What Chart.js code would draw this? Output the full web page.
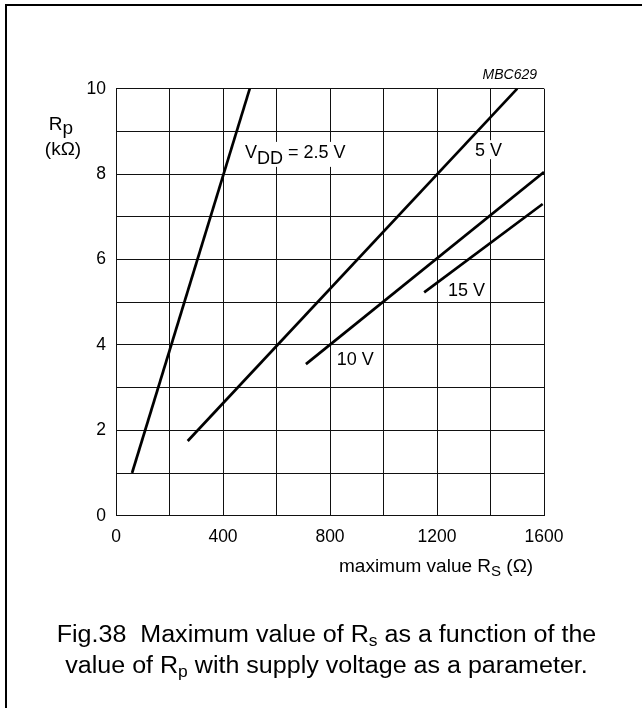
<!DOCTYPE html>
<html>
<head>
<meta charset="utf-8">
<script src="https://cdn.jsdelivr.net/npm/chart.js@4"></script>
<style>
  html, body { margin: 0; padding: 0; background: #fff; }
  canvas { display: block; }
</style>
</head>
<body>
<canvas id="myChart" width="642" height="708"></canvas>
<script>
// data: R_s (ohm) on x, R_p (kohm) on y
const xTicks = [0, 400, 800, 1200, 1600];
const yTicks = [0, 2, 4, 6, 8, 10];

const series = ['2.5 V', '5 V', '10 V', '15 V'];
const rsValues = [
    [60, 500],
    [268, 1500],
    [710, 1600],
    [1152, 1595]
];
const rpValues = [
    [1.0, 10.0],
    [1.75, 10.0],
    [3.55, 8.05],
    [5.23, 7.3]
];

// curve labels: [text parts [text, dy], x value, y value]
const curveLabels = [
    [[['V', 0], ['DD', 6], [' = 2.5 V', 0]], 482, 8.38],
    [[['5 V', 0]], 1342, 8.42],
    [[['10 V', 0]], 825, 3.53],
    [[['15 V', 0]], 1241, 5.15]
];

const FONT = '"Liberation Sans", Arial, Helvetica, sans-serif';

function measureParts(ctx, parts, size){
    let total = 0;
    parts.forEach(p => {
        ctx.font = (p[2] || size) + 'px ' + FONT;
        total += ctx.measureText(p[0]).width;
    });
    return total;
}

function drawParts(ctx, parts, x, y, size, align, sx){
    // parts: [text, dy, size?]; sx = horizontal stretch of the scan
    sx = sx || 1;
    const total = measureParts(ctx, parts, size) * sx;
    let cx = x;
    if(align === 'center') cx = x - total / 2;
    if(align === 'right') cx = x - total;
    ctx.save();
    ctx.translate(cx, y);
    ctx.scale(sx, 1);
    ctx.textAlign = 'left';
    ctx.textBaseline = 'alphabetic';
    let lx = 0;
    parts.forEach(p => {
        ctx.font = (p[2] || size) + 'px ' + FONT;
        ctx.fillText(p[0], lx, p[1]);
        lx += ctx.measureText(p[0]).width;
    });
    ctx.restore();
    return total;
}

const extras = {
    id: 'extras',
    beforeDraw(chart){
        const ctx = chart.ctx;
        ctx.save();
        ctx.fillStyle = '#fff';
        ctx.fillRect(0, 0, chart.width, chart.height);
        // frame (left and top only, like the scan)
        ctx.strokeStyle = '#000';
        ctx.lineWidth = 2;
        ctx.beginPath();
        ctx.moveTo(6, chart.height);
        ctx.lineTo(6, 5);
        ctx.lineTo(chart.width, 5);
        ctx.stroke();
        ctx.restore();
    },
    beforeDatasetsDraw(chart){
        const ctx = chart.ctx;
        const xs = chart.scales.x, ys = chart.scales.y;
        ctx.save();
        curveLabels.forEach(l => {
            const px = xs.getPixelForValue(l[1]);
            const py = ys.getPixelForValue(l[2]);
            const w = measureParts(ctx, l[0], 18);
            const low = Math.max(...l[0].map(p => p[1]));
            ctx.fillStyle = '#fff';
            ctx.fillRect(px - 3, py - 16, w + 6, 19 + low);
            ctx.fillStyle = '#000';
            drawParts(ctx, l[0], px, py, 18, 'left');
        });
        ctx.restore();
    },
    afterDraw(chart){
        const ctx = chart.ctx;
        const a = chart.chartArea;
        ctx.save();
        ctx.fillStyle = '#000';

        // figure code
        ctx.font = 'italic 14px ' + FONT;
        ctx.textAlign = 'right';
        ctx.fillText('MBC629', a.right - 7, a.top - 10);

        // y axis title
        drawParts(ctx, [['R', 0], ['p', 4]], 61, a.top + 41, 19, 'center');
        drawParts(ctx, [['(k\u03A9)', 0]], 63, a.top + 66, 19, 'center');

        // x axis title
        drawParts(ctx, [['maximum value R', 0], ['S', 4, 15], [' (\u03A9)', 0]], 339, a.bottom + 56, 19, 'left');

        // caption
        drawParts(ctx, [['Fig.38  Maximum value of R', 0], ['s', 4, 16], [' as a function of the', 0]], 326.5, 642, 23, 'center', 1.09);
        drawParts(ctx, [['value of R', 0], ['p', 4, 16], [' with supply voltage as a parameter.', 0]], 326.5, 673, 23, 'center', 1.09);
        ctx.restore();
    }
};

const datasets = series.map((name, i) => {
    return {
        label: name,
        data: rsValues[i].map((x, j) => ({x: x, y: rpValues[i][j]})),
        showLine: true,
        borderColor: '#000',
        borderWidth: 2.7,
        pointRadius: 0,
        fill: false
    };
});

const ctx = document.getElementById('myChart').getContext('2d');
new Chart(ctx, {
    type: 'scatter',
    data: { datasets: datasets },
    plugins: [extras],
    options: {
        responsive: false,
        animation: false,
        layout: {
            padding: { left: 76, right: 98, top: 88.7, bottom: 162.3 }
        },
        plugins: {
            legend: { display: false },
            tooltip: { enabled: false }
        },
        scales: {
            x: {
                type: 'linear',
                min: 0,
                max: 1600,
                afterFit: s => { s.height = 30; },
                grid: { color: '#111', lineWidth: 1, drawTicks: false },
                border: { color: '#111', width: 1 },
                ticks: {
                    stepSize: 200,
                    autoSkip: false,
                    maxRotation: 0,
                    padding: 11,
                    color: '#000',
                    font: { family: FONT, size: 17.5 },
                    callback: v => xTicks.includes(v) ? String(v) : ''
                }
            },
            y: {
                type: 'linear',
                min: 0,
                max: 10,
                afterFit: s => { s.width = 40; },
                grid: { color: '#111', lineWidth: 1, drawTicks: false },
                border: { color: '#111', width: 1 },
                ticks: {
                    stepSize: 1,
                    autoSkip: false,
                    padding: 10,
                    color: '#000',
                    font: { family: FONT, size: 17.5 },
                    callback: v => yTicks.includes(v) ? String(v) : ''
                }
            }
        }
    }
});
</script>
</body>
</html>
